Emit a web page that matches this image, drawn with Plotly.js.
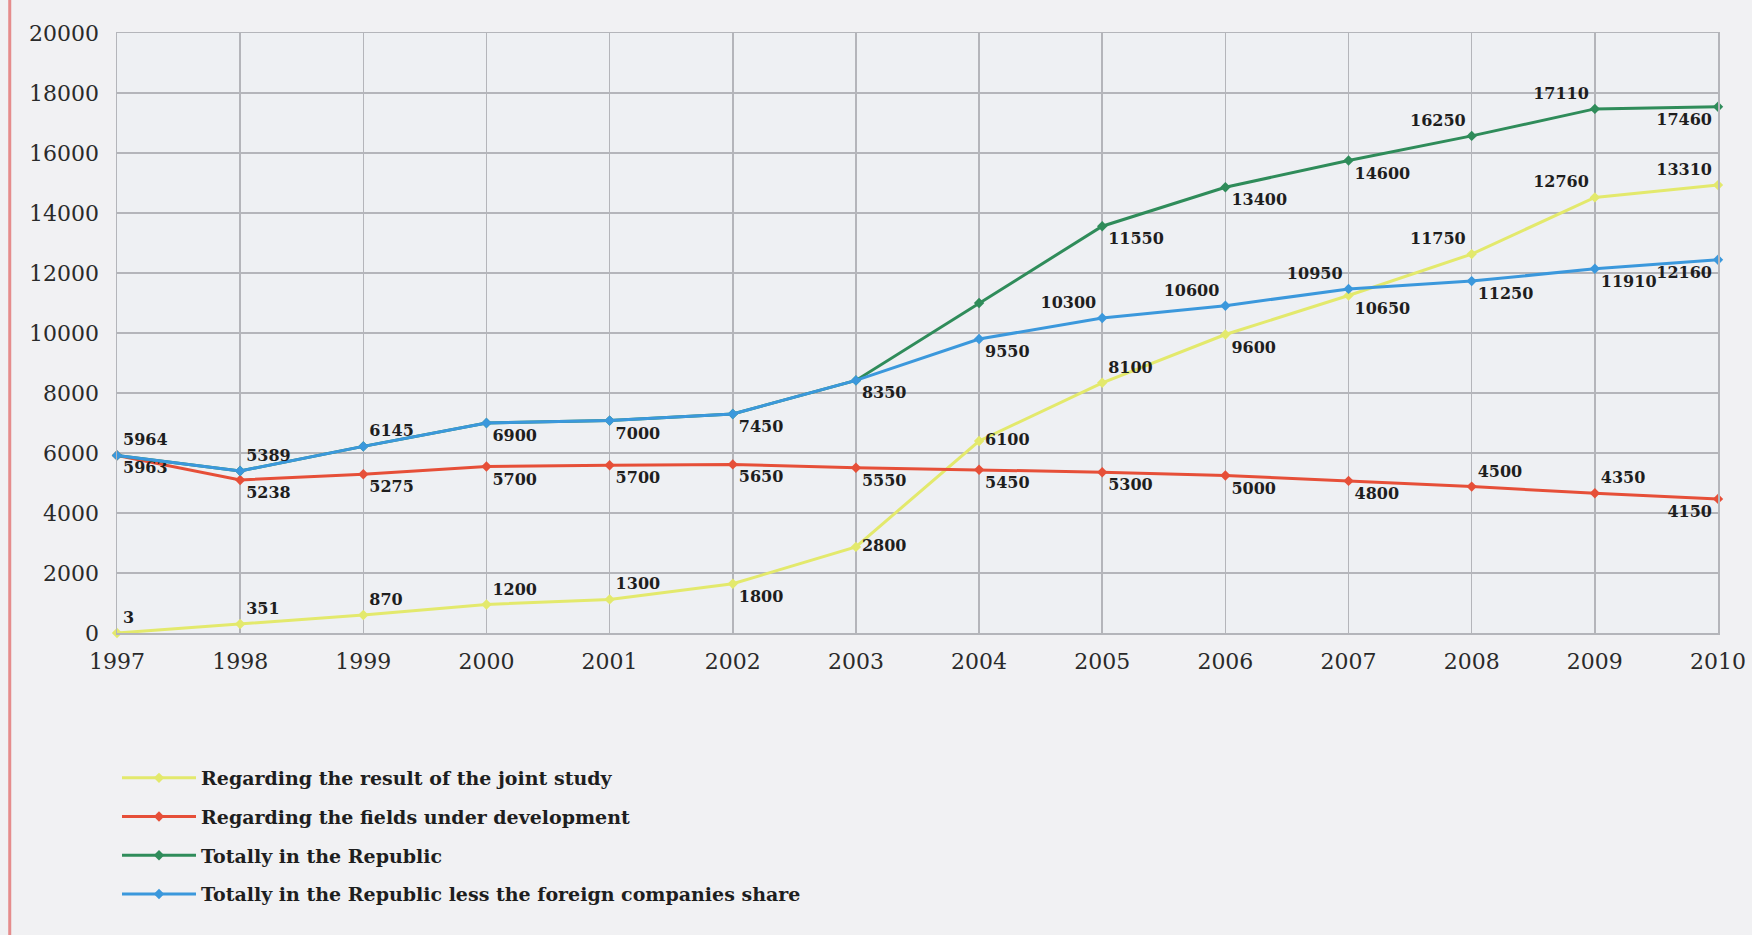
<!DOCTYPE html>
<html>
<head>
<meta charset="utf-8">
<script src="https://cdn.plot.ly/plotly-3.0.1.min.js"></script>
<style>
html,body{margin:0;padding:0;background:#f1f1f3;}
#chart{width:1752px;height:935px;}
</style>
</head>
<body>
<div id="chart"></div>
<script>
const years = [1997,1998,1999,2000,2001,2002,2003,2004,2005,2006,2007,2008,2009,2010];
const yTicks = [0,2000,4000,6000,8000,10000,12000,14000,16000,18000,20000];

const seriesNames = [
  "Regarding the result of the joint study",
  "Regarding the fields under development",
  "Totally in the Republic",
  "Totally in the Republic less the foreign companies share"
];

// plotted positions (as drawn)
const jointStudy   = [0,300,600,950,1120,1640,2870,6400,8340,9950,11250,12630,14520,14930];
const fieldsDev    = [5920,5100,5290,5550,5590,5620,5510,5440,5360,5250,5070,4880,4660,4470];
const totalRep     = [5920,5400,6220,7000,7080,7300,8420,11000,13560,14860,15750,16570,17470,17540];
const totalLessFor = [5920,5400,6220,7000,7080,7300,8420,9800,10500,10910,11470,11730,12140,12440];

// printed data labels
const jointStudyLbl   = ["3","351","870","1200","1300","1800","2800","6100","8100","9600","10650","11750","12760","13310"];
const fieldsDevLbl    = ["5963","5238","5275","5700","5700","5650","5550","5450","5300","5000","4800","4500","4350","4150"];
const totalRepLbl     = ["","","","","","","","","11550","13400","14600","16250","17110","17460"];
const totalLessForLbl = ["5964","5389","6145","6900","7000","7450","8350","9550","10300","10600","10950","11250","11910","12160"];

const jointStudyPos   = ["top right","top right","top right","top right","top right","bottom right","middle right","middle right","top right","bottom right","bottom right","top left","top left","top left"];
const fieldsDevPos    = ["bottom right","bottom right","bottom right","bottom right","bottom right","bottom right","bottom right","bottom right","bottom right","bottom right","bottom right","top right","top right","bottom left"];
const totalRepPos     = ["top right","top right","top right","top right","top right","top right","top right","top right","bottom right","bottom right","bottom right","top left","top left","bottom left"];
const totalLessForPos = ["top right","top right","top right","bottom right","bottom right","bottom right","bottom right","bottom right","top left","top left","top left","bottom right","bottom right","bottom left"];

const colors = ["#e3e96c","#e64f38","#2f8c5a","#3b98dc"];

const labelFont = {family:"DejaVu Serif", size:16, color:"#1e1e1e", weight:"bold"};

function mk(i, y, txt, pos){
  return {
    x: years, y: y, text: txt, textposition: pos,
    mode: "lines+markers+text", type: "scatter",
    name: seriesNames[i], legendgroup: "g"+i,
    line: {color: colors[i], width: 3},
    marker: {color: colors[i], size: 8, symbol: "diamond"},
    textfont: labelFont,
    cliponaxis: false,
    hoverinfo: "x+y"
  };
}

const data = [
  mk(0, jointStudy, jointStudyLbl, jointStudyPos),
  mk(1, fieldsDev, fieldsDevLbl, fieldsDevPos),
  mk(2, totalRep, totalRepLbl, totalRepPos),
  mk(3, totalLessFor, totalLessForLbl, totalLessForPos)
];

const layout = {
  width: 1752, height: 935,
  paper_bgcolor: "#f1f1f3",
  plot_bgcolor: "#eef0f3",
  margin: {l:117, r:34, t:33, b:302},
  showlegend: true,
  legend: {
    x: 0.0, y: -0.21, xanchor: "left", yanchor: "top",
    bgcolor: "rgba(0,0,0,0)",
    font: {family:"DejaVu Serif", size:19, color:"#1e1e1e", weight:"bold"},
    tracegroupgap: 11,
    itemwidth: 74
  },
  xaxis: {
    range: [1997, 2010],
    tickvals: years, ticktext: years.map(String),
    showgrid: true, gridcolor: "#b4b5ba", gridwidth: 1.5,
    showline: true, linecolor: "#b4b5ba", linewidth: 1.5, mirror: true,
    zeroline: false, ticks: "",
    tickfont: {family:"DejaVu Serif", size:22, color:"#2a2a2a"},
    ticklabelstandoff: 8
  },
  yaxis: {
    range: [0, 20000],
    tickvals: yTicks, ticktext: yTicks.map(String),
    showgrid: true, gridcolor: "#b4b5ba", gridwidth: 1.5,
    showline: true, linecolor: "#b4b5ba", linewidth: 1.5, mirror: true,
    zeroline: false, ticks: "",
    tickfont: {family:"DejaVu Serif", size:22, color:"#2a2a2a"},
    ticklabelstandoff: 12
  },
  shapes: [
    {type:"line", xref:"paper", yref:"paper", x0:-0.067, x1:-0.067, y0:-0.55, y1:1.06,
     line:{color:"#e58c8c", width:3}}
  ]
};

Plotly.newPlot("chart", data, layout, {displayModeBar:false, staticPlot:true});
</script>
</body>
</html>
